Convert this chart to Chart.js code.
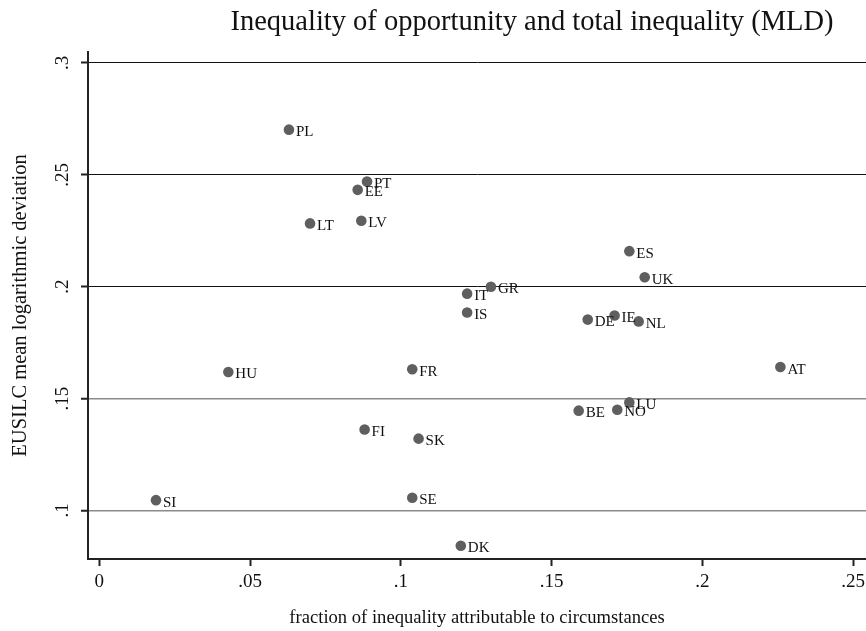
<!DOCTYPE html>
<html>
<head>
<meta charset="utf-8">
<script src="https://cdn.jsdelivr.net/npm/chart.js@4/dist/chart.umd.min.js"></script>
<style>
  html, body { margin: 0; padding: 0; background: #fff; }
  #wrap { width: 866px; height: 631px; position: relative; }
</style>
</head>
<body>
<div id="wrap"><canvas id="c" width="866" height="631"></canvas></div>
<script>
// Country codes and their values
const countries = ['PL','PT','EE','LT','LV','ES','UK','GR','IT','IS','DE','IE','NL','HU','FR','AT','BE','NO','LU','FI','SK','SI','SE','DK'];
// Share of inequality attributable to circumstances
const circumstanceShare = [0.0629,0.0888,0.0857,0.0699,0.0869,0.1758,0.1809,0.1299,0.1220,0.1220,0.1620,0.1709,0.1789,0.0428,0.1038,0.2259,0.1590,0.1718,0.1758,0.0880,0.1059,0.0188,0.1038,0.1199];
// EUSILC mean logarithmic deviation
const mld = [0.2702,0.2470,0.2433,0.2283,0.2295,0.2159,0.2042,0.2000,0.1969,0.1885,0.1853,0.1871,0.1845,0.1619,0.1631,0.1641,0.1446,0.1450,0.1483,0.1362,0.1321,0.1046,0.1057,0.0842];
// Axis ticks
const xTicks = [0, 0.05, 0.1, 0.15, 0.2, 0.25];
const yTicks = [0.1, 0.15, 0.2, 0.25, 0.3];

const SERIF = '"Liberation Serif", "DejaVu Serif", serif';
const fmt = v => (v === 0 ? '0' : String(+v.toFixed(4)).replace(/^0/, ''));

const points = circumstanceShare.map((x, i) => ({ x: x, y: mld[i] }));

const whiteBg = {
  id: 'whiteBg',
  beforeDraw(chart) {
    const c = chart.ctx;
    c.save();
    c.fillStyle = '#ffffff';
    c.fillRect(0, 0, chart.width, chart.height);
    c.restore();
  }
};

const headline = {
  id: 'headline',
  afterDraw(chart) {
    const c = chart.ctx;
    c.save();
    c.font = '28.5px ' + SERIF;
    c.fillStyle = '#111';
    c.textAlign = 'center';
    c.textBaseline = 'middle';
    c.fillText('Inequality of opportunity and total inequality (MLD)', 532, 23);
    c.restore();
  }
};

const pointLabels = {
  id: 'pointLabels',
  afterDatasetsDraw(chart) {
    const c = chart.ctx;
    const meta = chart.getDatasetMeta(0);
    c.save();
    c.font = '15px ' + SERIF;
    c.fillStyle = '#111';
    c.textAlign = 'left';
    c.textBaseline = 'alphabetic';
    meta.data.forEach((el, i) => {
      c.fillText(countries[i], el.x + 7, el.y + 6.5);
    });
    c.restore();
  }
};

new Chart(document.getElementById('c'), {
  type: 'scatter',
  data: {
    datasets: [{
      data: points,
      pointRadius: 5.3,
      pointHoverRadius: 5.3,
      pointBackgroundColor: '#5f5f5f',
      pointBorderWidth: 0,
      pointBorderColor: '#5f5f5f'
    }]
  },
  options: {
    responsive: false,
    animation: false,
    events: [],
    layout: { autoPadding: false, padding: { top: 52, left: 0, right: 0, bottom: 0 } },
    plugins: { legend: { display: false }, tooltip: { enabled: false }, title: { display: false } },
    scales: {
      x: {
        type: 'linear',
        min: -0.00375,
        max: 0.2543,
        afterBuildTicks: s => { s.ticks = xTicks.map(v => ({ value: v })); },
        afterFit: s => { s.height = 72; s.paddingLeft = 0; s.paddingRight = 0; },
        border: { display: true, color: '#222', width: 2 },
        grid: { drawOnChartArea: false, drawTicks: true, tickLength: 7, tickColor: '#222', tickWidth: 2 },
        ticks: {
          color: '#111',
          font: { family: SERIF, size: 19 },
          padding: 5,
          maxRotation: 0,
          minRotation: 0,
          callback: v => fmt(v)
        },
        title: {
          display: true,
          text: 'fraction of inequality attributable to circumstances',
          color: '#111',
          font: { family: SERIF, size: 18.6 },
          padding: { top: 0, bottom: 1.5 }
        }
      },
      y: {
        type: 'linear',
        min: 0.0783,
        max: 0.3049,
        afterBuildTicks: s => { s.ticks = yTicks.map(v => ({ value: v })); },
        afterFit: s => { s.width = 88; s.paddingTop = 0; s.paddingBottom = 0; },
        border: { display: true, color: '#222', width: 2 },
        grid: {
          drawOnChartArea: true,
          drawTicks: true,
          tickLength: 7,
          tickColor: '#222',
          tickWidth: 2,
          color: ctx => (ctx.tick && ctx.tick.value <= 0.15 ? '#8a8a8a' : '#111'),
          lineWidth: ctx => (ctx.tick && ctx.tick.value <= 0.15 ? 1.5 : 1)
        },
        ticks: {
          color: '#111',
          font: { family: SERIF, size: 19 },
          padding: 6,
          minRotation: 90,
          maxRotation: 90,
          crossAlign: 'center',
          callback: v => fmt(v)
        },
        title: {
          display: true,
          text: 'EUSILC mean logarithmic deviation',
          color: '#111',
          font: { family: SERIF, size: 20.5 },
          padding: { top: 8, bottom: 0 }
        }
      }
    }
  },
  plugins: [whiteBg, headline, pointLabels]
});
</script>
</body>
</html>
